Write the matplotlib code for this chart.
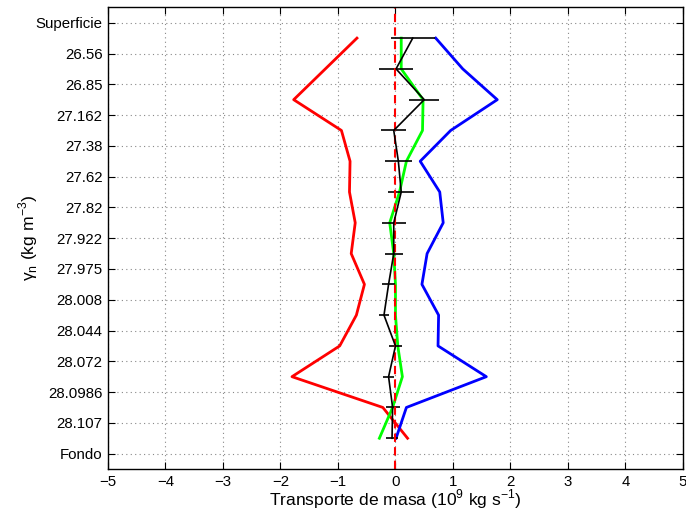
import numpy as np
import matplotlib
matplotlib.use('Agg')
import matplotlib.pyplot as plt

plt.rcParams['font.family'] = ['Liberation Sans', 'DejaVu Sans']
plt.rcParams['mathtext.fontset'] = 'custom'
plt.rcParams['mathtext.rm'] = 'Liberation Sans'

# density surfaces (tick labels), from surface to bottom
capas = ['Superficie', '26.56', '26.85', '27.162', '27.38', '27.62', '27.82',
         '27.922', '27.975', '28.008', '28.044', '28.072', '28.0986', '28.107', 'Fondo']

# transport per layer (between two surfaces), 10^9 kg/s
rojo = [-0.67, -1.22, -1.77, -0.94, -0.79, -0.80, -0.70, -0.77, -0.54, -0.68,
        -0.97, -1.80, -0.22, 0.21]
azul = [0.70, 1.17, 1.77, 0.96, 0.43, 0.77, 0.83, 0.55, 0.46, 0.75,
        0.74, 1.58, 0.19, 0.01]
verde = [0.10, 0.10, 0.48, 0.47, 0.19, 0.07, -0.10, -0.03, 0.0, 0.0,
         0.04, 0.12, -0.05, -0.28]
negro = [0.30, 0.01, 0.50, -0.03, 0.05, 0.10, -0.03, -0.03, -0.12, -0.20,
         0.0, -0.12, -0.05, -0.06]
error = [0.38, 0.30, 0.26, 0.22, 0.24, 0.23, 0.21, 0.16, 0.12, 0.09,
         0.12, 0.10, 0.12, 0.11]

ypos = np.arange(len(rojo)) + 0.5

fig = plt.figure(figsize=(6.86, 5.17), dpi=100)
ax = fig.add_axes([0.1574, 0.0928, 0.8382, 0.8930])

ax.plot(rojo, ypos, color='r', lw=2)
ax.plot(azul, ypos, color='b', lw=2)
ax.plot(verde, ypos, color='#00ff00', lw=2)
ax.errorbar(negro, ypos, xerr=error, color='k', lw=1.2, elinewidth=1.2, capsize=0)
ax.axvline(0, color='r', ls='--', lw=1.5, dashes=(4, 2.5))

ax.set_xlim(-5, 5)
ax.set_ylim(len(capas) - 0.5, -0.5)
ax.set_xticks(range(-5, 6))
ax.set_xticklabels(['\u2212%d' % -v if v < 0 else str(v) for v in range(-5, 6)])
ax.set_yticks(range(len(capas)))
ax.set_yticklabels(capas)

ax.grid(True, color='#888888', ls=(0, (1, 3)), lw=0.8)
ax.tick_params(direction='in', top=True, right=True, length=5, width=0.8,
               labelsize=10.8, colors='k', pad=4)
for s in ax.spines.values():
    s.set_linewidth(1)

ax.set_xlabel('Transporte de masa (10$^{\\mathregular{9}}$ kg s$^{\\mathregular{-1}}$)',
              fontsize=12.6, labelpad=-1)
ax.set_ylabel('\u03b3$_{\\mathregular{n}}$ (kg m$^{\\mathregular{-3}}$)', fontsize=12.6, labelpad=-3)

fig.savefig('out.png', dpi=100)
